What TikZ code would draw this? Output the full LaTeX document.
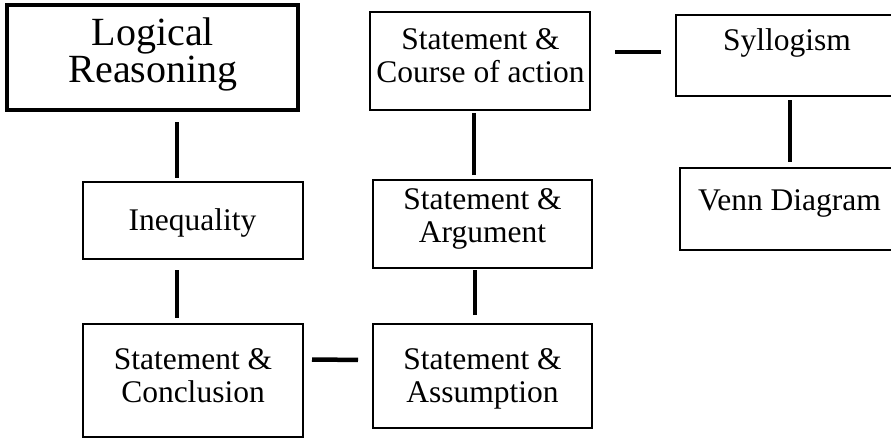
\documentclass[tikz,border=0pt]{standalone}
\usepackage{fontspec}
\setmainfont{Liberation Serif}
\begin{document}
\begin{tikzpicture}[x=1pt,y=-1pt,
  box/.style={draw, line width=2pt, inner sep=0pt, outer sep=0pt, anchor=north west},
  conn/.style={line width=4.5pt},
  txt/.style={font=\fontsize{31.5}{33}\selectfont, align=center, inner sep=0pt, anchor=base},
  bigtxt/.style={font=\fontsize{40}{33}\selectfont, align=center, inner sep=0pt, anchor=base}]
\useasboundingbox (0,0) rectangle (891,439);
% boxes
\node[box, line width=3.5pt, minimum width=291pt, minimum height=105pt] (lr) at (7,5) {};
\node[box, minimum width=220pt, minimum height=98pt] (ca) at (370,12) {};
\node[box, minimum width=224pt, minimum height=81pt] (sy) at (676,15) {};
\node[box, minimum width=220pt, minimum height=77pt] (in) at (83,182) {};
\node[box, minimum width=219pt, minimum height=88pt] (ar) at (373,180) {};
\node[box, minimum width=220pt, minimum height=82pt] (vd) at (680,168) {};
\node[box, minimum width=220pt, minimum height=113pt] (co) at (83,324) {};
\node[box, minimum width=219pt, minimum height=104pt] (as) at (373,324) {};
% texts (base = baseline of last line)
\node[bigtxt] (lrt) at (153,82) {Logical\\Reasoning};
\node[txt] (cat) at (480.5,82) {Statement \&\\Course of action};
\node[txt] (syt) at (787,50) {Syllogism};
\node[txt] (int) at (192.5,230) {Inequality};
\node[txt] (art) at (482.5,242) {Statement \&\\Argument};
\node[txt] (vdt) at (789.5,210) {Venn Diagram};
\node[txt] (cot) at (193,402) {Statement \&\\Conclusion};
\node[txt] (ast) at (482.5,402) {Statement \&\\Assumption};
% connectors
\draw[conn, shorten <=12pt, shorten >=4pt] ([xshift=24.5pt]lr.south) -- ([xshift=-16pt]in.north);
\draw[conn, shorten <=11pt, shorten >=6pt] ([xshift=-16pt]in.south) -- ([xshift=-16pt]co.north);
\draw[conn, shorten <=9pt, shorten >=15pt] ([yshift=21pt]co.east) -- ([yshift=16pt]as.west);
\draw[conn, shorten <=9pt, shorten >=2pt] ([xshift=-7.5pt]as.north) -- ([xshift=-7.5pt]ar.south);
\draw[conn, shorten <=5pt, shorten >=3pt] ([xshift=-8.5pt]ar.north) -- ([xshift=-6pt]ca.south);
\draw[conn, shorten <=25pt, shorten >=15pt] ([yshift=9pt]ca.east) -- ([yshift=3.5pt]sy.west);
\draw[conn, shorten <=4pt, shorten >=6pt] ([xshift=2pt]sy.south) -- ([xshift=0pt]vd.north);
\end{tikzpicture}
\end{document}
